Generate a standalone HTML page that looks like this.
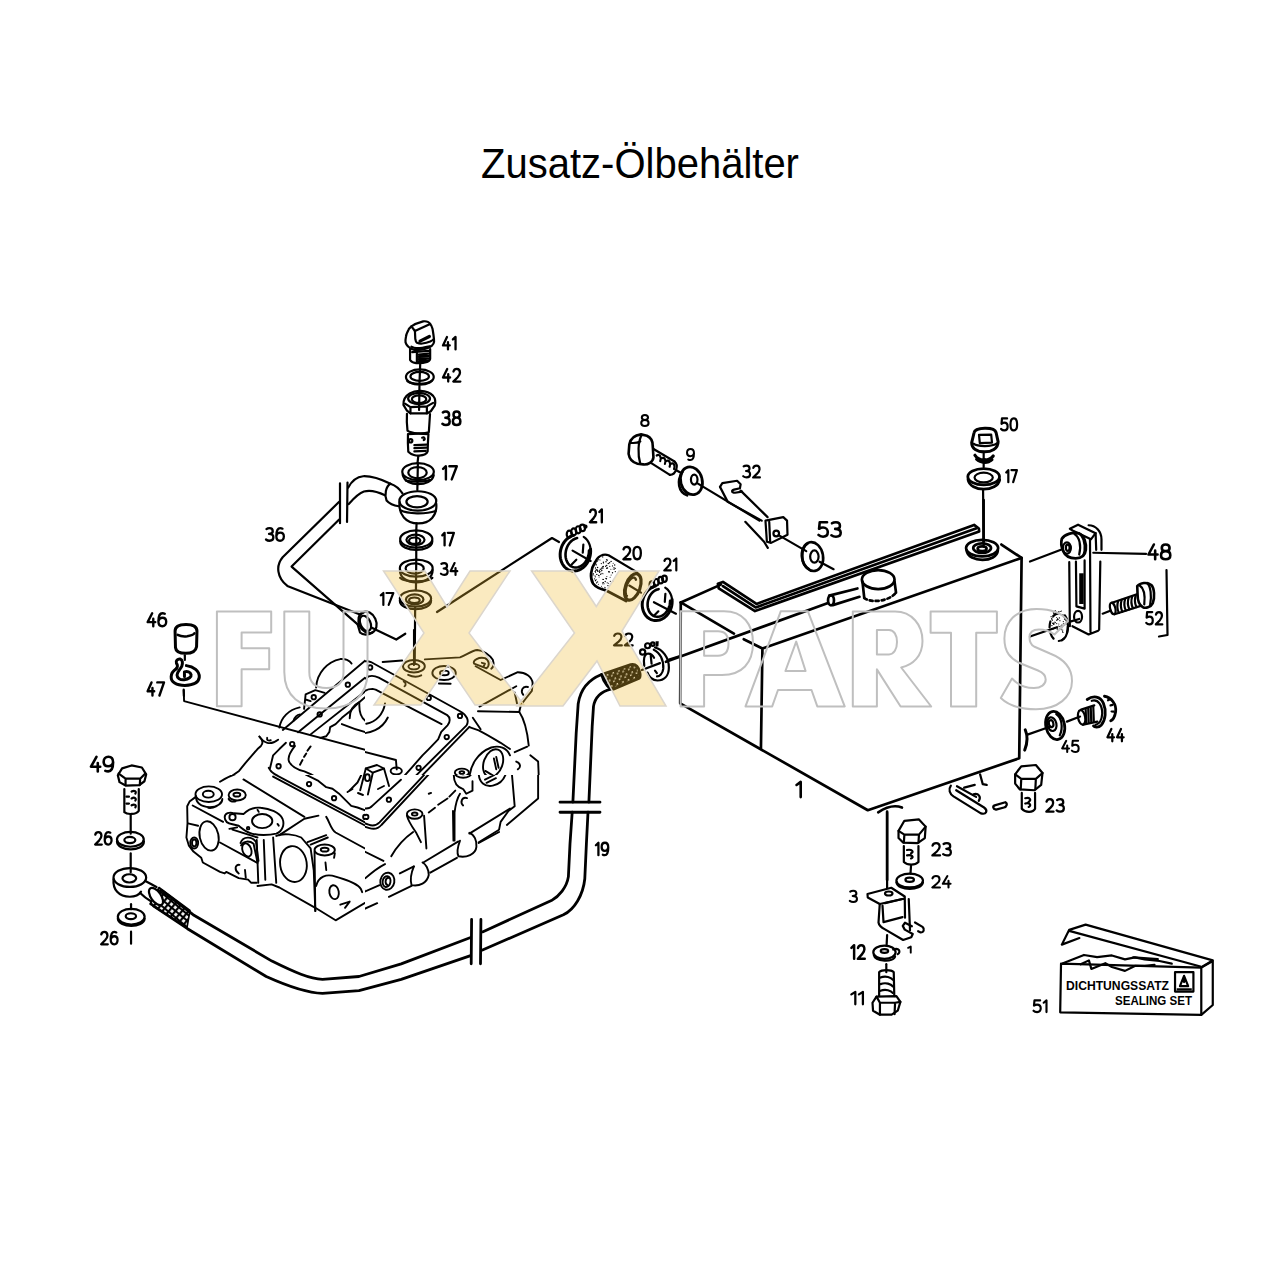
<!DOCTYPE html>
<html><head><meta charset="utf-8"><title>Zusatz-Ölbehälter</title>
<style>
html,body{margin:0;padding:0;background:#fff;}
body{width:1280px;height:1280px;overflow:hidden;position:relative;font-family:"Liberation Sans",sans-serif;}
#t{position:absolute;left:0;top:0;width:1280px;text-align:center;font-size:40px;line-height:1;color:#000;}
svg{position:absolute;left:0;top:0;}
.d path,.d ellipse,.d circle,.d line,.d polyline,.d rect,.d polygon{fill:none;stroke:#000;stroke-width:2.2;stroke-linecap:round;stroke-linejoin:round;vector-effect:non-scaling-stroke;}
.d .f{fill:#fff;}
.d .t{stroke-width:1.4;}
.d .k{fill:#000;stroke:none;}
.d .s circle{fill:#000;stroke:none;}
.d .gb path,.d .gb ellipse,.d .gb circle{stroke-width:1.9;}
.d .tk path,.d .tk ellipse{stroke-width:2.7;}
.d .hs path{stroke-width:2.8;}
.n{font-family:"Liberation Sans",sans-serif;font-size:20px;fill:#000;}
</style></head><body>
<div id="t" style="top:141.8px;transform:scaleY(1.055);transform-origin:0 0">Zusatz-Ölbehälter</div>
<svg width="1280" height="1280" viewBox="0 0 1280 1280">
<g class="d" id="drawing">
<!-- Z1: plug 41 & washer 42 -->
<g transform="translate(380,310) scale(0.078125)">
<path d="M402,209 C430,190 500,160 552,146 C590,140 625,155 642,179 L447,269 Z"/>
<path d="M402,209 C385,225 370,240 367,249 C345,290 333,320 332,344 C325,380 325,400 327,414 C335,440 345,455 357,464 C380,485 395,495 407,499 C430,510 450,514 472,514 C510,512 545,506 572,499 C610,490 640,475 662,459 C685,440 690,425 692,409 C692,380 690,360 687,339 C682,300 678,265 672,239 C665,210 655,192 642,179"/>
<path d="M447,269 C450,310 450,350 452,374 C455,395 462,410 472,419 C500,430 520,432 542,429 C580,425 615,415 642,404 C660,395 675,385 687,374"/>
<path d="M512,399 L632,339" style="stroke-width:3.2"/>
<path d="M402,469 C425,480 445,487 462,489 C490,490 515,488 542,484 C580,478 615,470 642,464"/>
<path d="M385,500 L385,640 C400,665 430,678 462,680 C510,683 570,675 602,664 C625,655 640,640 642,624 L642,500"/>
<path d="M472,540 L472,672"/>
<path d="M412,539 L627,524 M495,570 L625,558 M495,600 L625,588 M495,630 L625,618 M495,658 L620,648"/>
<path d="M515,680 L505,940"/>
<ellipse cx="510" cy="858" rx="178" ry="98"/>
<ellipse cx="508" cy="850" rx="118" ry="58"/>
<path d="M350,910 C400,955 600,960 665,905"/>
<path d="M505,975 L500,1280"/>
</g>
<!-- Z2: 38 & washer 17 -->
<g transform="translate(380,390) scale(0.078125)">
<path d="M345,265 L300,190 C298,140 320,80 380,45 C430,15 480,10 520,12 C580,15 640,35 680,75 C710,110 712,160 700,200 L650,272 L600,300 L390,300 Z"/>
<ellipse cx="500" cy="110" rx="140" ry="72"/>
<ellipse cx="500" cy="118" rx="92" ry="48"/>
<path d="M390,220 L600,210 M390,220 L390,298 M600,210 L600,298 M320,175 L390,220 M680,165 L600,210"/>
<path d="M345,305 C340,380 345,460 352,520 C400,560 560,565 625,540 C630,460 635,380 640,310"/>
<path d="M358,565 C355,650 358,730 362,790 C400,830 470,845 500,840 C560,835 600,815 610,785 C612,700 615,630 620,565 C560,560 420,560 358,565 Z"/>
<circle cx="392" cy="650" r="22"/>
<path d="M540,610 C570,595 580,630 560,640"/>
<path d="M440,705 L595,698 M440,745 L595,738 M440,785 L585,778"/>
<path d="M490,845 L480,935"/>
<ellipse cx="487" cy="1045" rx="202" ry="108"/>
<ellipse cx="480" cy="1058" rx="118" ry="72"/>
<path d="M290,1085 C310,1170 400,1205 487,1205 C580,1205 670,1170 688,1090"/>
<path d="M330,1160 C400,1180 580,1180 640,1150"/>
<path d="M485,935 L478,1280"/>
</g>
<!-- Z3: pipe 36, banjo, washers 17/34/17 -->
<g transform="translate(260,470) scale(0.15625)">
<path d="M835,88 C760,52 705,38 660,40 C615,44 585,75 565,112"/>
<path d="M800,162 C745,135 700,128 665,138 C628,150 600,182 568,218"/>
<path d="M512,85 L512,340 M560,80 L557,332"/>
<path d="M505,205 L145,558 C100,612 108,688 175,742 L640,925"/>
<path d="M505,318 L202,618 L625,988"/>
<path d="M835,88 C805,105 795,160 810,195 C830,218 860,228 888,232"/>
<path d="M838,90 C870,100 895,125 912,150"/>
<ellipse cx="1010" cy="198" rx="118" ry="62"/>
<ellipse cx="1005" cy="203" rx="68" ry="36"/>
<path d="M893,205 C885,285 935,342 1012,342 C1090,342 1135,290 1128,215"/>
<path d="M898,258 C945,282 1060,284 1125,262"/>
<path d="M1002,342 L1000,392"/>
<ellipse cx="1000" cy="442" rx="103" ry="55"/>
<ellipse cx="995" cy="447" rx="58" ry="33"/>
<ellipse cx="990" cy="452" rx="36" ry="20"/>
<path d="M897,455 C900,530 1100,530 1103,455"/>
<path d="M1000,388 L1000,575"/>
<ellipse cx="1000" cy="628" rx="105" ry="55"/>
<ellipse cx="990" cy="630" rx="58" ry="33"/>
<path d="M895,640 C895,745 1105,745 1105,640"/>
<path d="M897,690 C930,720 1070,720 1103,690"/>
<path d="M1000,575 L998,770"/>
<ellipse cx="995" cy="822" rx="100" ry="52"/>
<ellipse cx="990" cy="828" rx="56" ry="32"/>
<ellipse cx="988" cy="834" rx="34" ry="18"/>
<path d="M895,835 C895,910 1095,910 1095,835"/>
<path d="M993,880 L990,1240"/>
<ellipse cx="688" cy="975" rx="55" ry="72" transform="rotate(-25 688 975)"/>
<ellipse cx="675" cy="982" rx="32" ry="52" transform="rotate(-25 675 982)"/>
<path d="M640,925 L665,910 M625,988 L640,1040 C660,1060 700,1055 720,1040"/>
<path d="M712,1008 L872,1085 L930,1048"/>
</g>
<!-- Z4: bolt 8, washer 9, bracket 32, washer 53 -->
<g transform="translate(550,400) scale(0.234375)">
<ellipse cx="1120" cy="668" rx="45" ry="62" transform="rotate(-10 1120 668)" style="stroke-width:2.6"/>
<ellipse cx="1128" cy="668" rx="18" ry="26"/>
<path d="M1100,612 C1070,630 1065,700 1105,722" style="stroke-width:2.6"/>
<path d="M1150,690 L1210,722"/>
</g>
<g transform="translate(600,380) scale(0.234375)">
<path d="M212,285 L318,348 M207,347 L298,405"/>
<path d="M318,348 C336,362 326,404 298,405"/>
<path d="M242,322 C254,314 264,330 257,346 M262,334 C274,326 284,342 277,358 M282,346 C294,338 304,354 297,370 M302,358 C314,350 322,364 316,380"/>
<path d="M125,275 C130,250 150,235 175,232 L200,238 C215,245 225,262 225,280 L228,330 C226,350 205,362 185,360 L160,357 C140,352 125,335 122,315 Z" style="fill:#fff;stroke-width:2.6"/>
<path d="M178,234 C162,262 160,320 172,358 M130,268 C145,270 160,268 172,262"/>
<path d="M325,385 L345,396"/>
<ellipse cx="390" cy="430" rx="46" ry="60" transform="rotate(-15 390 430)" style="stroke-width:2.8"/>
<ellipse cx="402" cy="425" rx="14" ry="21"/>
<path d="M352,392 C326,430 334,478 372,492" style="stroke-width:2.6"/>
<path d="M418,442 L680,600"/>
<path d="M512,456 L522,440 L585,430 L600,445 L597,462 L572,468 C560,471 561,481 576,481 L606,476"/>
<path d="M512,456 L545,520 L690,600 M600,472 L715,585"/>
<path d="M706,600 L782,585 L798,600 L800,660 L730,695 L712,690 Z" style="fill:#fff"/>
<path d="M722,605 L726,690"/>
<circle cx="752" cy="655" r="12"/>
<path d="M620,605 L700,690 L716,716"/>
<path d="M762,662 L880,730"/>
</g>

<!-- Z17: cap 46, clip 47 -->
<g transform="translate(170,610) scale(0.078125)" style="stroke-width:3">
<path d="M65,270 C65,200 130,185 205,185 C280,185 345,205 345,270 L340,470 C330,530 280,555 200,555 C120,555 75,530 70,480 Z" style="stroke-width:3"/>
<path d="M98,318 C130,335 180,342 220,337 C262,330 300,320 312,300" style="stroke-width:2.6"/>
<path d="M190,580 L190,640"/>
<path d="M210,712 C300,722 380,782 375,860 C370,922 300,962 190,966 C80,966 10,922 15,852 C18,802 50,772 80,752" style="stroke-width:3"/>
<path d="M80,752 C100,732 100,702 82,682 C70,652 100,622 130,627 C162,637 166,682 150,722 C130,762 90,792 90,832 C90,872 130,897 182,892 C242,887 276,852 270,827 C260,792 222,782 185,792 L185,852" style="stroke-width:3"/>
<path d="M175,1020 L178,1100"/>
</g>
<!-- Hose 19 (abs) -->
<defs>
<pattern id="hatch" width="5" height="5" patternUnits="userSpaceOnUse" patternTransform="rotate(40)">
<rect width="5" height="5" fill="#fff"/><path d="M0,0 L0,5 M0,0 L5,0" stroke="#000" stroke-width="0.9"/>
</pattern>
<pattern id="braidD" width="6" height="6" patternUnits="userSpaceOnUse" patternTransform="rotate(-20)">
<rect width="6" height="6" fill="#1e1e1e"/><circle cx="1.5" cy="1.5" r="1.1" fill="#fff"/><circle cx="4.5" cy="4.5" r="1.0" fill="#fff"/>
</pattern>
</defs>
<g class="hs">
<path d="M162.2,890.8 L193.1,914.7 L271.9,961.1 C294.4,972.3 310,979 322.5,979.4 L359,976.5 L401.2,963.9 L470.6,937.5"/>
<path d="M153.7,906.2 L187.5,928.7 L266.2,976.5 C294.4,989.2 310,993 322.5,993.4 L359,990.6 L401.2,979.4 L470.6,955.6"/>
<path d="M471.6,919.4 L471.2,963.8 M480.9,919.4 L480.5,963.8"/>
<path d="M482.5,931.9 L551.4,900.6 C559,896.25 566.7,887.5 568.4,876.6 L570,843.75 L572.2,812.25"/>
<path d="M482.5,950 L563.4,914.8 C574.4,909.4 583.1,895.2 584.8,878.75 L586.4,843.75 L588,812.25"/>
<path d="M560,802.2 L600,802.2 M560,812.25 L600,812.25"/>
<path d="M572.9,802 L576.2,733 L578.2,703.7 C580.2,690.5 588.2,679.8 601.5,674.5"/>
<path d="M588.9,802 L592.2,726.3 L593.5,706.4 C594.8,698.4 600.2,691.8 610.8,689.1"/>
<path d="M601.5,674.5 L630.7,664.6 C636,663.5 639,667 640,673.2 C640.5,676 639.5,678 638.7,678.5 L613.4,689.1 C610,690 604,684 601.5,674.5 Z" style="fill:url(#braidD)"/>
<path d="M159,887.5 L190,910.5 L187,927.5 L150,904 Z" style="fill:url(#hatch);stroke-width:1.6"/>
<ellipse cx="156" cy="896.5" rx="5" ry="10" transform="rotate(-35 156 896.5)" style="fill:#fff;stroke-width:2.2"/>
</g>
<!-- Z10: bolt 49, washers 26, banjo -->
<g transform="translate(80,740) scale(0.171875)">
<path d="M220,205 L245,165 L300,148 L360,160 L385,200 L375,240 L345,262 L265,265 L230,245 Z"/>
<path d="M225,195 L265,225 L350,225 L380,195 M265,225 L265,262 M350,225 L348,262"/>
<path d="M258,285 L258,420 C275,435 325,435 342,412 L342,285"/>
<path d="M300,300 C318,290 330,300 322,312 M300,340 C318,330 330,340 322,352 M300,380 C318,370 330,380 322,392 M270,330 L285,330 M270,370 L285,370"/>
<path d="M295,435 L295,545"/>
<ellipse cx="293" cy="578" rx="78" ry="43"/><ellipse cx="290" cy="582" rx="32" ry="18"/>
<path d="M215,590 C218,650 370,655 372,590"/>
<path d="M295,660 L295,770"/>
<ellipse cx="290" cy="800" rx="95" ry="55"/><ellipse cx="287" cy="805" rx="40" ry="24"/>
<path d="M195,810 C190,870 225,912 290,912 C325,912 345,898 355,882"/>
<path d="M380,820 C405,832 425,845 445,855 M350,890 C370,910 395,928 415,940"/>
<path d="M297,955 L297,985"/>
<ellipse cx="298" cy="1028" rx="78" ry="46"/><ellipse cx="296" cy="1025" rx="30" ry="17"/>
<path d="M220,1040 C225,1095 372,1095 376,1040"/>
<path d="M297,1115 L297,1185"/>
</g>

<!-- Z7: Tank -->
<g class="tk" transform="translate(660,500) scale(0.296875)">
<path d="M70,345 L68,685 L700,1045 L1210,870 L1218,195 L1150,150"/>
<path d="M70,345 L249,450 M282,469 L345,500 L1218,195 M345,500 L340,835"/>
<path d="M70,345 L205,285"/>
<path d="M195,282 L212,276 L325,350 L1058,84 L1074,96 L1075,106 L320,374 L198,298 Z"/>
<path d="M212,290 L322,362 L1064,96"/>
<ellipse cx="735" cy="268" rx="55" ry="32"/>
<path d="M682,275 L688,330 M790,275 L795,312"/>
<path d="M688,330 C712,348 770,342 795,312" style="stroke-dasharray:3 3"/>
<path d="M570,322 L665,298 M582,354 L672,326"/>
<ellipse cx="576" cy="338" rx="10" ry="17"/>
<ellipse cx="1085" cy="162" rx="54" ry="28"/><ellipse cx="1085" cy="162" rx="30" ry="16"/><ellipse cx="1085" cy="164" rx="15" ry="8"/>
<path d="M1033,170 C1038,212 1135,212 1138,170"/>
<path d="M1090,0 L1090,140"/>
<path d="M20,545 L566,347"/>
<path d="M735,1052 C765,1032 795,1028 815,1036 M765,1050 L765,1280"/>
</g>
<!-- Z6: cap 50, washer 17, sight glass 48, bolt 52 -->
<g transform="translate(940,400) scale(0.203125)">
<path d="M168,160 C172,134 268,130 276,160 L286,205 C286,240 252,255 220,255 C182,255 156,240 156,210 Z" style="stroke-width:3"/>
<path d="M192,172 L252,170 L256,210 L196,212 Z M165,215 C185,230 255,232 282,212"/>
<path d="M172,272 C190,300 240,305 262,276" style="stroke-width:3.2"/><path d="M180,292 C200,312 238,312 256,294" style="stroke-width:3"/><path d="M195,300 L218,290 L240,306 M215,262 L215,330"/>
<ellipse cx="215" cy="378" rx="78" ry="40" style="stroke-width:2.8"/><ellipse cx="215" cy="382" rx="45" ry="24"/>
<path d="M138,392 C148,455 282,455 294,392" style="stroke-width:2.8"/>
<path d="M212,440 L215,722"/>
</g>
<!-- Z22: sight glass 48 -->
<g transform="translate(1030,510) scale(0.1171875)">
<path d="M340,160 L410,125 L560,198 L520,250 L372,180 Z"/>
<path d="M500,130 C560,130 610,180 610,250 L610,340 M560,198 L565,340"/>
<path d="M272,245 C295,205 360,188 420,200 C462,220 482,282 476,340 C470,388 440,412 390,412 C338,412 300,392 284,352 C266,312 264,272 272,245 Z" style="stroke-width:2.8"/>
<path d="M380,205 C420,230 440,300 420,380 M440,220 C470,260 475,340 455,390"/>
<ellipse cx="315" cy="325" rx="34" ry="48"/><ellipse cx="322" cy="322" rx="16" ry="26"/>
<path d="M335,445 L340,992 M512,252 L516,1040 M600,440 L590,1022 M362,992 L500,1062 L582,1030"/>
<path d="M392,440 L396,822 L466,842 L466,430"/>
<rect x="420" y="540" width="38" height="262" class="k"/>
<ellipse cx="410" cy="910" rx="34" ry="50"/>
<path d="M0,440 L275,335 M540,365 L990,375"/>
<ellipse cx="245" cy="1000" rx="78" ry="118" style="stroke-dasharray:6 6"/>
<path d="M298,900 C340,960 330,1080 272,1112"/>
<path d="M0,1080 L230,1000 M350,950 L420,930"/>
</g>
<!-- Z8: 44/45/23/23/24/3/12/11 -->
<g transform="translate(830,680) scale(0.265625)">
<path d="M697,355 L720,325 L775,320 L800,350 L795,395 L770,415 L715,412 L697,390 Z"/>
<path d="M697,355 L720,372 L775,372 L800,350 M720,372 L718,412 M775,372 L773,412"/>
<path d="M722,425 L722,485 C735,500 765,500 772,485 L772,425"/>
<path d="M735,445 C752,440 760,452 748,458 M735,465 C752,460 760,472 748,478"/>
<path d="M455,398 C445,412 450,428 465,438 L568,502 C588,508 596,492 580,480 L475,415"/>
<path d="M478,400 L550,440 M505,405 L545,395 M565,355 L575,392 L590,395 M540,430 C560,425 570,440 560,455"/>
<path d="M620,472 L660,460 C670,465 665,478 655,480 L625,488 C612,485 612,475 620,472 Z"/>
<path d="M258,568 L280,530 L335,525 L360,552 L357,595 L330,614 L275,612 L258,595 Z"/>
<path d="M258,568 L280,582 L335,582 L360,552 M280,582 L278,612 M335,582 L333,612"/>
<path d="M278,625 L278,685 C292,698 320,698 333,685 L333,625"/>
<path d="M290,640 C308,636 318,648 305,652 M290,660 C308,656 318,668 305,672"/>
<path d="M305,700 L303,730"/>
<ellipse cx="300" cy="755" rx="50" ry="26"/><ellipse cx="300" cy="752" rx="16" ry="8"/>
<path d="M250,762 C255,795 345,795 350,762"/>
<path d="M215,500 L215,800"/>
<path d="M215,960 L213,1000"/>
<ellipse cx="205" cy="1025" rx="42" ry="25"/><ellipse cx="205" cy="1020" rx="14" ry="7"/>
<path d="M165,1035 C170,1060 240,1065 245,1040 M238,1015 C260,1005 268,1025 255,1032"/>
<path d="M212,1070 L212,1100"/>
<path d="M185,1100 L185,1190 M240,1100 L242,1190 M185,1100 C195,1090 230,1090 240,1100"/>
<path d="M190,1120 C210,1112 230,1120 236,1128 M190,1145 C210,1137 230,1145 236,1153 M190,1170 C210,1162 230,1170 236,1178"/>
<path d="M160,1215 L175,1192 L250,1190 L265,1212 L255,1245 L232,1260 L188,1260 L162,1245 Z"/>
<path d="M175,1192 L188,1215 L245,1215 L265,1212 M188,1215 L188,1260 M245,1215 L243,1258"/>
</g>
<!-- Z9: box 51 -->
<g transform="translate(1020,900) scale(0.1640625)">
<path d="M250,388 L1105,412 L1105,700 L245,685 Z"/>
<path d="M1105,412 L1175,372 L1175,640 L1105,700"/>
<path d="M255,272 L300,182 L400,150 L1175,368 L1105,410 M300,188 L1100,405 M255,272 L362,232"/>
<path d="M262,385 L390,335 L470,348 L560,338 L640,362 L700,350 L760,362 L850,372 L925,388"/>
<path d="M370,392 L420,368 L435,420 L520,385 L560,408 L640,432 L700,402 L760,402 L820,395"/>
<path d="M690,350 L840,360"/>
<rect x="945" y="440" width="112" height="118"/>
<path d="M975,525 L1000,462 L1025,525 Z M1000,462 L1000,500"/>
<rect x="955" y="538" width="92" height="14" class="k"/>
</g>
<text x="1066" y="989.5" font-family="Liberation Sans" font-size="12.6" font-weight="bold" textLength="103" lengthAdjust="spacingAndGlyphs" fill="#000">DICHTUNGSSATZ</text>
<text x="1115" y="1005" font-family="Liberation Sans" font-size="12.6" font-weight="bold" textLength="77" lengthAdjust="spacingAndGlyphs" fill="#000">SEALING SET</text>

<!-- Z23: clamp 22 -->
<g transform="translate(620,620) scale(0.0625)">
<path d="M560,440 C680,470 782,600 782,760 C782,900 700,965 600,968 C520,965 462,905 440,842"/>
<path d="M540,475 C640,522 702,642 692,782 C682,862 632,902 592,902"/>
<path d="M388,735 C375,640 382,560 432,540 C482,530 522,560 545,605"/>
<circle cx="362" cy="512" r="42"/><circle cx="442" cy="412" r="40"/><circle cx="525" cy="385" r="28"/>
<path d="M570,340 L620,340 L615,420 L570,430 Z" class="k"/>
<path d="M350,800 L640,690 M492,570 L505,700 M560,810 L590,850"/>
<path d="M782,632 L960,575"/>
</g>
<path d="M437,612 L552,538 L559,542"/>

<path d="M1166.5,570 L1167.5,635 L1159,636.5"/>
<g class="s"><circle cx="603.0" cy="573.8" r="0.5"/><circle cx="595.2" cy="571.4" r="0.7"/><circle cx="612.7" cy="581.0" r="0.6"/><circle cx="607.2" cy="560.1" r="0.7"/><circle cx="599.1" cy="577.0" r="0.5"/><circle cx="609.8" cy="566.3" r="0.6"/><circle cx="595.6" cy="580.3" r="0.6"/><circle cx="595.0" cy="575.8" r="0.5"/><circle cx="601.7" cy="569.0" r="0.5"/><circle cx="606.9" cy="576.5" r="0.5"/><circle cx="596.0" cy="564.1" r="0.6"/><circle cx="613.2" cy="569.1" r="0.5"/><circle cx="597.0" cy="561.4" r="0.7"/><circle cx="606.7" cy="565.4" r="0.7"/><circle cx="603.4" cy="579.5" r="0.5"/><circle cx="597.5" cy="571.4" r="0.5"/><circle cx="602.6" cy="566.9" r="0.7"/><circle cx="606.4" cy="559.5" r="0.5"/><circle cx="603.3" cy="567.9" r="0.5"/><circle cx="603.5" cy="582.5" r="0.5"/><circle cx="606.0" cy="578.4" r="0.7"/><circle cx="597.2" cy="570.2" r="0.7"/><circle cx="609.4" cy="571.9" r="0.7"/><circle cx="603.5" cy="563.0" r="0.6"/><circle cx="615.1" cy="568.4" r="0.7"/><circle cx="595.7" cy="560.6" r="0.7"/><circle cx="596.8" cy="569.8" r="0.7"/><circle cx="598.9" cy="559.3" r="0.5"/><circle cx="597.8" cy="560.6" r="0.6"/><circle cx="600.7" cy="574.3" r="0.7"/><circle cx="602.7" cy="556.9" r="0.7"/><circle cx="613.2" cy="563.3" r="0.5"/><circle cx="593.1" cy="574.9" r="0.6"/><circle cx="595.6" cy="572.5" r="0.5"/><circle cx="611.1" cy="574.9" r="0.5"/><circle cx="597.6" cy="567.5" r="0.7"/><circle cx="609.6" cy="562.7" r="0.7"/><circle cx="600.9" cy="571.6" r="0.5"/><circle cx="603.0" cy="579.4" r="0.7"/><circle cx="593.5" cy="563.4" r="0.5"/><circle cx="614.0" cy="567.6" r="0.6"/><circle cx="599.6" cy="570.4" r="0.5"/><circle cx="602.3" cy="588.3" r="0.7"/><circle cx="605.7" cy="566.2" r="0.7"/><circle cx="606.0" cy="561.8" r="0.7"/><circle cx="601.3" cy="563.6" r="0.6"/><circle cx="603.3" cy="566.4" r="0.7"/><circle cx="605.1" cy="587.7" r="0.5"/><circle cx="604.8" cy="587.2" r="0.5"/><circle cx="596.5" cy="582.9" r="0.5"/><circle cx="596.7" cy="582.3" r="0.5"/><circle cx="605.2" cy="581.5" r="0.7"/><circle cx="595.6" cy="580.6" r="0.6"/><circle cx="593.2" cy="573.7" r="0.7"/><circle cx="612.5" cy="572.8" r="0.7"/><circle cx="607.2" cy="589.3" r="0.5"/><circle cx="595.2" cy="562.0" r="0.6"/><circle cx="602.9" cy="583.8" r="0.6"/><circle cx="601.9" cy="567.8" r="0.6"/><circle cx="602.7" cy="582.8" r="0.5"/><circle cx="599.1" cy="557.3" r="0.7"/><circle cx="595.3" cy="576.8" r="0.6"/><circle cx="597.8" cy="558.5" r="0.5"/><circle cx="599.6" cy="572.3" r="0.6"/><circle cx="596.0" cy="569.8" r="0.5"/><circle cx="607.2" cy="582.8" r="0.6"/><circle cx="604.1" cy="583.7" r="0.5"/><circle cx="607.9" cy="585.6" r="0.7"/><circle cx="602.0" cy="573.3" r="0.6"/><circle cx="606.7" cy="568.3" r="0.7"/><circle cx="608.6" cy="583.2" r="0.5"/><circle cx="606.4" cy="578.7" r="0.7"/><circle cx="596.8" cy="574.4" r="0.7"/><circle cx="600.0" cy="560.0" r="0.5"/><circle cx="608.7" cy="571.8" r="0.7"/><circle cx="598.1" cy="559.0" r="0.7"/><circle cx="607.5" cy="568.0" r="0.7"/><circle cx="610.3" cy="581.3" r="0.6"/><circle cx="611.1" cy="561.4" r="0.7"/><circle cx="597.6" cy="570.6" r="0.5"/><circle cx="596.2" cy="564.9" r="0.7"/><circle cx="594.5" cy="563.2" r="0.6"/><circle cx="603.4" cy="562.2" r="0.7"/><circle cx="610.9" cy="569.2" r="0.5"/><circle cx="599.1" cy="575.4" r="0.5"/><circle cx="602.0" cy="568.4" r="0.6"/><circle cx="598.4" cy="584.2" r="0.5"/><circle cx="596.1" cy="579.6" r="0.5"/><circle cx="599.0" cy="571.2" r="0.7"/><circle cx="612.5" cy="565.9" r="0.6"/><circle cx="600.3" cy="569.2" r="0.7"/><circle cx="614.7" cy="565.0" r="0.7"/><circle cx="598.6" cy="575.3" r="0.6"/><circle cx="608.2" cy="563.6" r="0.7"/><circle cx="599.5" cy="571.9" r="0.6"/><circle cx="601.5" cy="586.2" r="0.5"/><circle cx="601.8" cy="570.4" r="0.7"/><circle cx="594.5" cy="578.8" r="0.6"/><circle cx="595.7" cy="570.6" r="0.5"/><circle cx="603.2" cy="582.5" r="0.5"/><circle cx="606.4" cy="589.5" r="0.5"/><circle cx="595.5" cy="568.0" r="0.7"/><circle cx="610.1" cy="577.2" r="0.5"/><circle cx="614.2" cy="569.6" r="0.5"/><circle cx="608.4" cy="563.3" r="0.6"/><circle cx="615.3" cy="571.6" r="0.6"/><circle cx="607.0" cy="560.1" r="0.6"/><circle cx="595.0" cy="562.0" r="0.5"/><circle cx="597.6" cy="581.9" r="0.6"/><circle cx="595.4" cy="580.6" r="0.6"/><circle cx="1053.0" cy="623.2" r="0.7"/><circle cx="1056.7" cy="623.6" r="0.6"/><circle cx="1061.7" cy="626.9" r="0.7"/><circle cx="1056.2" cy="627.9" r="0.5"/><circle cx="1054.6" cy="611.2" r="0.5"/><circle cx="1051.9" cy="625.6" r="0.7"/><circle cx="1063.3" cy="623.6" r="0.5"/><circle cx="1053.9" cy="613.6" r="0.7"/><circle cx="1051.1" cy="616.7" r="0.6"/><circle cx="1059.7" cy="628.3" r="0.6"/><circle cx="1057.5" cy="618.7" r="0.5"/><circle cx="1061.9" cy="627.8" r="0.5"/><circle cx="1057.8" cy="627.7" r="0.5"/><circle cx="1053.3" cy="612.4" r="0.5"/><circle cx="1057.2" cy="629.6" r="0.6"/><circle cx="1058.7" cy="626.1" r="0.5"/><circle cx="1064.6" cy="618.8" r="0.6"/><circle cx="1062.8" cy="625.2" r="0.6"/><circle cx="1061.5" cy="625.0" r="0.5"/><circle cx="1054.0" cy="613.3" r="0.6"/><circle cx="1061.4" cy="611.0" r="0.6"/><circle cx="1052.9" cy="617.3" r="0.6"/><circle cx="1064.7" cy="625.1" r="0.5"/><circle cx="1053.8" cy="623.1" r="0.6"/><circle cx="1059.4" cy="617.9" r="0.7"/><circle cx="1058.8" cy="624.1" r="0.5"/><circle cx="1062.6" cy="631.4" r="0.5"/><circle cx="1061.5" cy="629.7" r="0.5"/><circle cx="1053.6" cy="624.1" r="0.7"/><circle cx="1055.3" cy="610.6" r="0.6"/><circle cx="1057.6" cy="628.4" r="0.5"/><circle cx="1066.2" cy="623.2" r="0.7"/><circle cx="1052.2" cy="628.9" r="0.6"/><circle cx="1060.4" cy="611.4" r="0.5"/><circle cx="1053.6" cy="624.1" r="0.5"/><circle cx="1052.5" cy="623.3" r="0.5"/><circle cx="1057.6" cy="619.3" r="0.7"/><circle cx="1060.7" cy="625.9" r="0.5"/><circle cx="1052.0" cy="619.5" r="0.5"/><circle cx="1051.7" cy="618.8" r="0.7"/><circle cx="1056.7" cy="617.4" r="0.5"/><circle cx="1054.0" cy="623.9" r="0.6"/><circle cx="1062.7" cy="630.1" r="0.6"/><circle cx="1057.9" cy="619.5" r="0.7"/><circle cx="1066.3" cy="623.8" r="0.6"/><circle cx="1063.3" cy="621.6" r="0.6"/><circle cx="1056.8" cy="620.2" r="0.7"/><circle cx="1055.3" cy="622.6" r="0.6"/><circle cx="1060.4" cy="629.1" r="0.6"/><circle cx="1059.4" cy="626.4" r="0.5"/><circle cx="1062.9" cy="632.4" r="0.6"/><circle cx="1065.5" cy="619.8" r="0.5"/><circle cx="1053.2" cy="628.9" r="0.7"/><circle cx="1058.9" cy="611.6" r="0.7"/><circle cx="1059.9" cy="620.7" r="0.6"/><circle cx="1053.6" cy="616.4" r="0.6"/><circle cx="1052.3" cy="620.3" r="0.6"/><circle cx="1064.5" cy="619.1" r="0.6"/><circle cx="1062.2" cy="614.5" r="0.6"/><circle cx="1054.8" cy="622.0" r="0.6"/></g>
<!-- Gearbox tiles -->
<defs>
<clipPath id="cA"><rect x="170" y="600" width="195" height="175"/></clipPath>
<clipPath id="cB"><rect x="365" y="600" width="200" height="175"/></clipPath>
<clipPath id="cC"><rect x="150" y="775" width="215" height="160"/></clipPath>
<clipPath id="cD"><rect x="365" y="775" width="200" height="160"/></clipPath>
</defs>
<g class="gb" clip-path="url(#cA)"><g transform="translate(170,630) scale(0.15625)">
<path d="M88,385 L90,455 L1280,775"/>
<path d="M722,640 L1250,195"/>
<path d="M820,655 L1280,280"/>
<path d="M900,668 L1280,368"/>
<circle cx="920" cy="430" r="14"/><circle cx="1138" cy="350" r="14"/><circle cx="958" cy="540" r="14"/><circle cx="1270" cy="240" r="14"/>
<path d="M862,470 L868,412 L930,385 L990,402 M862,470 L858,505 M868,445 L900,455"/>
<path d="M700,625 C710,560 760,510 830,495 M790,582 C798,555 815,542 832,540"/>
<path d="M935,368 C940,272 1010,202 1090,186 C1120,182 1150,195 1162,215"/>
<path d="M962,690 L1000,680 L1020,652 L1025,622 L1060,602 L1100,562 L1150,522 L1200,472 L1280,402"/>
<path d="M1150,565 C1150,522 1170,482 1212,462 M1212,472 C1210,522 1222,562 1252,582 L1280,592 M1100,602 C1150,622 1200,642 1280,662"/>
<path d="M572,682 C592,702 600,722 582,742 L560,762 L482,852 L442,902 L400,932 L340,962"/>
<path d="M572,682 C600,722 640,742 692,702 M622,690 C618,705 630,712 645,705"/>
<path d="M640,885 L660,802 L700,762 L742,722"/>
<circle cx="782" cy="730" r="14"/><circle cx="695" cy="872" r="14"/>
<path d="M832,862 L848,832 M858,812 L872,790 M880,772 L900,745"/>
<path d="M800,742 C770,780 752,820 762,842 C780,880 820,895 860,905 L900,922 L950,952"/>
<path d="M632,882 C650,922 700,942 762,962"/>
</g></g>
<g class="gb" clip-path="url(#cB)"><g transform="translate(360,630) scale(0.15625)">
<path d="M345,0 L345,225"/>
<ellipse cx="345" cy="232" rx="70" ry="40"/><ellipse cx="345" cy="234" rx="35" ry="18"/>
<path d="M308,287 C340,302 372,300 392,290"/>
<ellipse cx="538" cy="275" rx="75" ry="45"/><ellipse cx="540" cy="275" rx="28" ry="15"/>
<path d="M505,342 L580,344"/>
<path d="M145,205 L270,195"/>
<path d="M415,188 L640,175 C680,160 720,130 750,128 C790,130 830,160 850,190 C860,220 850,240 840,248"/>
<path d="M730,215 C720,195 760,170 800,180 C830,195 830,230 810,245 Z"/>
<path d="M780,210 L800,215 L790,235"/>
<path d="M740,232 L900,320 L1010,270 C1060,270 1100,300 1105,340 L1100,390 L1060,440 L1030,480 L1020,520"/>
<path d="M1075,365 C1040,355 1025,390 1045,415"/>
<path d="M990,400 L1005,470"/>
<path d="M765,490 L1000,360"/>
<path d="M755,520 L1020,525 C1050,570 1070,640 1080,740"/>
<path d="M0,215 C20,200 45,195 70,205 L640,520 C685,545 700,580 682,610 L330,960"/>
<path d="M700,620 L370,960"/>
<path d="M722,562 L772,635"/>
<path d="M0,330 L55,297 C75,290 100,295 120,305 L558,545 C580,560 578,590 560,610 L520,652 L500,700 L440,762 L400,802 L330,882 L260,960"/>
<circle cx="65" cy="240" r="14"/><circle cx="440" cy="435" r="14"/><circle cx="640" cy="550" r="14"/><circle cx="555" cy="685" r="14"/><circle cx="375" cy="882" r="14"/>
<path d="M280,330 C295,335 295,355 285,360"/>
<path d="M0,422 C20,392 50,377 80,377 L100,382 L522,602"/>
<path d="M160,470 C150,540 100,590 40,600 M178,560 C140,640 60,662 0,662"/>
<path d="M0,772 L230,832 L235,892"/>
<ellipse cx="232" cy="902" rx="36" ry="22"/>
<path d="M700,960 C700,862 760,782 840,752 C890,737 940,752 960,802"/>
<ellipse cx="852" cy="852" rx="60" ry="92" transform="rotate(20 852 852)"/>
<path d="M872,812 L887,882 M857,822 L872,892 M802,902 L852,932"/>
<ellipse cx="652" cy="912" rx="45" ry="25"/><ellipse cx="652" cy="912" rx="15" ry="9"/>
<path d="M990,782 L1070,747 M1000,842 C1030,852 1030,882 1010,892 M1090,802 L1140,842 L1145,960"/>
<path d="M700,622 L760,642 C800,662 850,692 900,722 L960,762"/>
</g></g>
<g class="gb" clip-path="url(#cC)"><g transform="translate(170,770) scale(0.15625)">
<path d="M320,75 C360,50 400,30 440,20"/>
<ellipse cx="248" cy="155" rx="85" ry="50"/><ellipse cx="245" cy="155" rx="35" ry="22"/>
<path d="M165,165 C165,215 200,235 255,238 C300,238 335,215 335,185 M245,242 C280,247 315,227 330,202"/>
<ellipse cx="430" cy="160" rx="55" ry="35"/><ellipse cx="428" cy="158" rx="22" ry="12"/>
<path d="M375,185 C380,200 400,205 420,200"/>
<path d="M165,172 L125,202 L110,232 L112,342 L105,432 L120,482 L150,522 L200,562 L210,592 L320,652 L350,662 L360,652 L440,692 L500,702 L520,722 L555,722"/>
<path d="M145,227 L340,332"/>
<path d="M115,342 L180,357"/>
<ellipse cx="250" cy="422" rx="60" ry="95" transform="rotate(-12 250 422)"/>
<ellipse cx="155" cy="467" rx="25" ry="35"/><ellipse cx="155" cy="467" rx="14" ry="22"/>
<ellipse cx="492" cy="512" rx="28" ry="44" transform="rotate(-20 492 512)"/>
<path d="M455,482 C470,452 510,452 535,472 L560,592"/>
<path d="M445,607 C415,602 410,642 440,662 M480,640 L485,690"/>
<path d="M350,302 C350,277 380,267 410,277 L470,282 C500,252 540,237 580,242 C640,247 700,272 720,312 C735,347 720,392 680,407 C640,417 560,422 510,402 C480,392 460,372 440,357 L400,347 C370,342 350,327 350,302 Z"/>
<circle cx="400" cy="302" r="20"/>
<ellipse cx="590" cy="327" rx="65" ry="45"/>
<circle cx="500" cy="372" r="8"/>
<path d="M560,255 L568,268 M688,345 L696,356"/>
<path d="M380,377 L430,367 M400,382 L560,432"/>
<path d="M555,447 L565,722 M600,447 L610,702 M660,432 L680,722"/>
<ellipse cx="790" cy="602" rx="85" ry="115" transform="rotate(-8 790 602)"/>
<path d="M680,422 C720,402 800,412 840,432 L900,502 L920,642 L930,902"/>
<path d="M700,417 L860,312 L950,292"/>
<path d="M880,462 L1000,417 M900,477 L1010,432"/>
<path d="M470,60 L860,300"/>
<path d="M1000,300 C1020,330 1030,380 1060,400 L1280,520"/>
<ellipse cx="990" cy="512" rx="65" ry="35"/><ellipse cx="990" cy="510" rx="25" ry="12"/>
<path d="M925,522 L930,902 M1055,532 L1050,562 M995,592 L1000,640"/>
<path d="M935,742 C950,682 1000,662 1060,682 C1120,702 1200,722 1222,762 L1230,782"/>
<ellipse cx="1050" cy="782" rx="30" ry="45" transform="rotate(-10 1050 782)"/>
<path d="M560,742 L650,732 L700,752 L930,882 L1060,962 L1280,832"/>
<path d="M1090,862 L1150,842 L1120,882"/>
<path d="M660,22 L1280,352 M660,42 L1280,372"/>
<circle cx="890" cy="90" r="14"/><circle cx="1050" cy="180" r="14"/><circle cx="1250" cy="300" r="14"/>
<path d="M830,0 L870,30 L950,70 L1000,110 L1040,120 L1080,150 L1120,190 L1160,230 L1200,240 L1280,270"/>
<path d="M1150,130 L1200,80 L1230,20"/>
</g></g>
<g class="gb" clip-path="url(#cD)"><g transform="translate(360,770) scale(0.15625)">
<path d="M440,0 L125,335 Q95,365 55,350 L0,330"/>
<path d="M452,15 L137,352 Q107,387 60,372 L0,352"/>
<circle cx="185" cy="190" r="14"/><circle cx="40" cy="300" r="14"/>
<path d="M262,62 L80,228 Q60,250 30,246 L-10,236"/>
<path d="M200,552 C240,482 290,432 340,397"/>
<path d="M440,272 L480,242 M500,222 L560,182 M572,170 L610,132 M440,152 L455,147"/>
<ellipse cx="350" cy="282" rx="50" ry="30"/><ellipse cx="350" cy="282" rx="18" ry="10"/>
<path d="M300,292 C310,332 340,372 360,402 L390,462 M410,292 L425,502"/>
<ellipse cx="660" cy="15" rx="55" ry="35"/><ellipse cx="660" cy="15" rx="20" ry="12"/>
<path d="M600,30 C600,80 620,110 660,122 L680,152 L720,132 L720,72"/>
<path d="M685,180 C650,170 640,210 660,227"/>
<path d="M640,152 C620,182 610,232 605,272 L605,452 M595,262 L598,452"/>
<path d="M760,20 C760,80 800,110 850,100 C900,90 930,50 940,0 M800,62 L860,32 M810,82 L870,52"/>
<path d="M970,0 L990,232 L950,262 L900,332 L890,382 L760,462"/>
<path d="M1140,0 L1140,182 L940,352"/>
<path d="M0,792 L125,737 M255,662 L345,617 M405,592 L630,457 M700,407 L960,247"/>
<path d="M0,902 L110,852 M185,812 L330,742 M450,657 L620,562 M760,467 L890,397"/>
<path d="M345,617 C330,652 320,702 330,737 C380,747 430,722 440,672 C440,632 420,602 400,592"/>
<path d="M640,452 C625,492 620,532 630,552 C680,562 740,542 745,492 C750,452 730,412 700,402"/>
<ellipse cx="175" cy="712" rx="45" ry="55" transform="rotate(10 175 712)"/>
<ellipse cx="170" cy="714" rx="25" ry="35" transform="rotate(10 170 714)"/>
<path d="M185,690 C160,690 155,730 180,740"/>
<path d="M0,507 L150,582 M35,692 C80,652 120,622 160,602"/>
<path d="M0,722 L10,780 M20,720 L28,775"/>
</g></g>

<!-- 44/45 -->
<g transform="translate(1010,680) scale(0.1015625)">
<path d="M150,490 C172,540 172,620 145,690" style="stroke-width:3"/>
<path d="M165,540 L400,458 M560,410 L690,360"/>
<ellipse cx="445" cy="448" rx="92" ry="140" transform="rotate(-12 445 448)" style="stroke-width:2.8"/>
<path d="M455,335 C510,370 525,470 490,545"/>
<ellipse cx="412" cy="435" rx="45" ry="68" transform="rotate(-12 412 435)"/>
<ellipse cx="405" cy="430" rx="22" ry="34" transform="rotate(-12 405 430)"/>
<path d="M700,292 L830,250 M720,440 L860,410"/>
<ellipse cx="705" cy="368" rx="35" ry="72" transform="rotate(-10 705 368)"/>
<path d="M745,290 L750,420 M770,280 L775,415 M795,272 L800,410 M820,264 L825,405"/>
<path d="M760,192 C820,150 890,160 920,230 C950,300 942,392 900,442 C870,472 832,466 822,452" style="stroke-width:2.8"/>
<path d="M805,205 C870,185 908,252 908,332 C904,392 880,432 842,442"/>
<path d="M930,160 C1000,172 1050,242 1040,312 C1032,362 1012,392 992,402" style="stroke-width:2.8"/>
<path d="M965,200 L985,190 M990,250 L1010,245 M1000,310 L1020,312"/>
</g>
<!-- bolt 52 -->
<g transform="translate(1030,510) scale(0.1171875)">
<path d="M700,792 L955,705 M722,890 L965,812"/>
<ellipse cx="706" cy="840" rx="22" ry="50" transform="rotate(-15 706 840)"/>
<path d="M752,778 C742,810 745,850 758,878 M782,768 C772,800 775,840 788,868 M812,758 C802,790 805,830 818,858 M842,748 C832,780 835,820 848,848 M872,738 C862,770 865,810 878,838 M902,728 C892,760 895,800 908,828"/>
<path d="M915,650 C940,620 1000,612 1035,640 C1062,668 1066,745 1048,795 C1030,832 985,842 962,828 C935,812 918,770 918,720 Z" style="fill:#fff;stroke-width:2.6"/>
<path d="M932,640 C965,662 985,722 975,805 M1000,622 C1030,652 1040,732 1025,815"/>
<path d="M620,885 L690,858"/>
</g>
<!-- bracket 3 -->
<g transform="translate(830,860) scale(0.125)">
<path d="M300,272 L490,222 L598,292 L600,462 M300,272 L302,300 L398,352 L598,308" style="fill:#fff"/>
<path d="M398,352 L388,500 C392,525 410,540 440,555 L585,640 L650,618 L662,592 L598,557 L582,527 L600,502 L655,530"/>
<path d="M420,365 L428,497 L580,457 M440,345 L580,312"/>
<ellipse cx="470" cy="268" rx="30" ry="16"/>
<path d="M630,312 L640,562"/>
<path d="M680,500 L740,535 C760,552 750,580 725,580 L705,570"/>
</g>
<g class="gb">
<path d="M220,842.5 L257.5,863"/>
<path d="M240.5,843 C243,836 252,836 256,842 L258.5,861"/>
</g>
<!-- lever boss block (abs) -->
<g class="gb">
<path d="M365.8,768.5 L377,765 L384,768.5 L372.8,772.7 Z" style="fill:#fff"/>
<path d="M365.8,768.5 L360.2,790.3 M372.8,772.7 L367.9,794.5 M384,768.5 L389,786.1"/>
<ellipse cx="367.4" cy="777.7" rx="2.4" ry="3.4"/>
<path d="M347.5,792 L352.5,789 M358,793 L363,795 M378,789 L384,786"/>
</g>
<!-- Z5: clamps 21, hose 20 -->
<g transform="translate(540,500) scale(0.1171875)">

<path d="M286.3,301.4 L271.3,306.4 L256.6,313.4 L242.6,322.4 L229.4,333.1 L217.2,345.5 L206.2,359.4 L196.6,374.5 L188.3,390.7 L181.7,407.8 L176.7,425.5 L173.5,443.5 L172.0,461.7 L172.4,479.7 L174.5,497.4 L178.4,514.4 L184.0,530.5 L191.3,545.6 L200.1,559.4 L210.3,571.6 L221.8,582.3 L234.4,591.1 L247.9,598.0 L262.2,602.8 L277.0,605.6 L292.2,606.2 L307.5,604.7 L322.7,601.1 L337.7,595.4 L352.1,587.8 L365.9,578.2 L378.8,566.9 L390.6,554.0 L401.1,539.7 L410.4,524.2 L418.1,507.7 L424.2,490.4 L428.6,472.5 L431.2,454.4 L432.1,436.3 L431.1,418.3" style="stroke-width:3"/><path d="M431.1,418.3 L430.7,415.1 L430.3,411.8 L429.8,408.6 L429.3,405.3 L428.6,402.2 L428.0,399.0 L427.2,395.8 L426.4,392.7 L425.6,389.6 L424.7,386.6 L423.7,383.5 L422.7,380.5 L421.6,377.6 L420.4,374.6 L419.2,371.7 L418.0,368.9 L416.7,366.1 L415.3,363.3 L413.9,360.6 L412.4,357.9 L410.9,355.2 L409.3,352.6 L407.7,350.1 L406.0,347.6 L404.3,345.1 L402.5,342.7 L400.7,340.4 L398.8,338.1 L396.9,335.8 L394.9,333.6 L392.9,331.5 L390.8,329.4 L388.8,327.4 L386.6,325.5 L384.4,323.6 L382.2,321.7 L380.0,320.0 L377.7,318.3 L375.4,316.6 L373.0,315.0"/>
<path d="M316.8,325.1 L305.0,328.2 L293.4,332.9 L282.1,339.2 L271.4,347.1 L261.3,356.4 L251.9,367.0 L243.5,378.8 L236.1,391.5 L229.9,405.1 L224.9,419.3 L221.1,433.9 L218.8,448.7 L217.7,463.5 L218.1,478.2 L219.9,492.5 L223.0,506.1 L227.5,519.0 L233.1,531.0 L240.0,541.8 L248.0,551.3 L256.9,559.5 L266.7,566.1 L277.1,571.1 L288.2,574.4 L299.7,576.1 L311.4,575.9 L323.2,574.0 L334.9,570.4 L346.4,565.2 L357.5,558.3 L368.1,549.9 L378.0,540.2 L387.0,529.2 L395.1,517.1 L402.1,504.0 L407.9,490.2 L412.5,475.9 L415.8,461.2 L417.7,446.4 L418.3,431.5" style="stroke-width:2.6"/>
<path d="M370,380 L365,450 M270,550 L310,510"/>
<ellipse cx="250" cy="292" rx="22" ry="30"/><ellipse cx="288" cy="272" rx="22" ry="30"/><ellipse cx="326" cy="254" rx="22" ry="30"/><ellipse cx="362" cy="238" rx="22" ry="28"/>
<circle cx="388" cy="228" r="18" class="k"/>
<path d="M278,432 L432,520"/>
<path d="M470,532 C485,482 540,455 585,472 L830,618"/>
<path d="M470,532 C430,592 425,662 452,712 C482,752 525,762 565,772 L735,862" style="stroke-width:2.7"/>
<ellipse cx="792" cy="742" rx="62" ry="118" transform="rotate(20 792 742)" style="stroke-width:3.2"/>
<path d="M818.7,680.1 L817.1,676.0 L815.2,672.3 L813.0,669.1 L810.5,666.5 L807.7,664.5 L804.7,663.1 L801.5,662.2 L798.1,662.0 L794.5,662.4 L790.8,663.4 L786.9,665.0 L783.0,667.1 L779.1,669.9 L775.1,673.2 L771.1,677.0 L767.1,681.3 L763.2,686.1 L759.4,691.3 L755.8,696.9 L752.3,702.8 L748.9,709.0 L745.8,715.5 L742.9,722.2 L740.3,729.0 L737.9,735.9 L735.8,742.9 L734.1,749.9 L732.6,756.8 L731.5,763.6 L730.7,770.2 L730.3,776.6 L730.2,782.8 L730.4,788.6 L731.0,794.1 L732.0,799.2 L733.3,803.9 L734.9,808.0 L736.8,811.7 L739.0,814.9 L741.5,817.5" style="stroke-width:2.4"/>
<path d="M762,730 L862,790"/>
<path d="M983.8,734.9 L969.0,739.6 L954.6,746.3 L940.9,754.8 L928.0,765.1 L916.1,777.0 L905.4,790.2 L895.9,804.8 L887.9,820.3 L881.5,836.7 L876.7,853.7 L873.6,871.1 L872.3,888.6 L872.7,906.0 L875.0,923.0 L878.9,939.4 L884.5,955.0 L891.7,969.5 L900.5,982.8 L910.6,994.7 L921.9,1005.0 L934.3,1013.6 L947.6,1020.3 L961.7,1025.0 L976.3,1027.8 L991.2,1028.5 L1006.3,1027.1 L1021.2,1023.7 L1035.9,1018.4 L1050.0,1011.1 L1063.5,1001.9 L1076.1,991.1 L1087.6,978.8 L1097.9,965.0 L1106.9,950.1 L1114.4,934.3 L1120.3,917.6 L1124.5,900.5 L1127.0,883.1 L1127.7,865.6 L1126.7,848.3" style="stroke-width:3"/><path d="M1126.7,848.3 L1126.3,845.2 L1125.9,842.0 L1125.4,838.9 L1124.8,835.8 L1124.2,832.7 L1123.5,829.7 L1122.8,826.6 L1122.0,823.6 L1121.1,820.6 L1120.2,817.7 L1119.2,814.7 L1118.2,811.8 L1117.1,809.0 L1116.0,806.2 L1114.8,803.4 L1113.5,800.6 L1112.2,797.9 L1110.8,795.2 L1109.4,792.6 L1108.0,790.0 L1106.5,787.4 L1104.9,784.9 L1103.3,782.4 L1101.6,780.0 L1099.9,777.6 L1098.1,775.3 L1096.3,773.1 L1094.5,770.8 L1092.6,768.7 L1090.6,766.5 L1088.6,764.5 L1086.6,762.5 L1084.6,760.5 L1082.4,758.6 L1080.3,756.8 L1078.1,755.0 L1075.9,753.3 L1073.6,751.6 L1071.3,750.0 L1069.0,748.5"/>
<path d="M1012.1,760.8 L1000.9,763.5 L989.8,767.9 L979.0,773.8 L968.8,781.2 L959.1,789.8 L950.3,799.7 L942.3,810.7 L935.3,822.7 L929.4,835.4 L924.6,848.6 L921.2,862.3 L918.9,876.2 L918.1,890.2 L918.5,903.9 L920.3,917.3 L923.3,930.2 L927.7,942.3 L933.2,953.6 L939.8,963.8 L947.5,972.8 L956.1,980.5 L965.5,986.7 L975.5,991.5 L986.1,994.7 L997.1,996.3 L1008.3,996.2 L1019.6,994.5 L1030.9,991.2 L1041.8,986.3 L1052.4,979.9 L1062.5,972.1 L1071.9,963.0 L1080.5,952.7 L1088.2,941.4 L1094.8,929.2 L1100.3,916.3 L1104.7,902.8 L1107.7,889.1 L1109.5,875.1 L1109.9,861.2" style="stroke-width:2.6"/>
<path d="M1070,800 L1065,870 M970,990 L1010,950"/>
<ellipse cx="955" cy="722" rx="20" ry="28"/><ellipse cx="992" cy="702" rx="20" ry="28"/><ellipse cx="1030" cy="684" rx="20" ry="28"/><ellipse cx="1062" cy="672" rx="20" ry="26"/>
<path d="M972,872 L1160,970"/>
</g>

</g>
<g id="labels" fill="none" stroke="#000" stroke-linecap="round" stroke-linejoin="round">
<path d="M447.00,336.95 L442.99,345.45 L449.78,345.45 M447.97,342.20 L447.97,349.45 M452.89,339.45 L455.54,336.95 L455.54,349.45" style="stroke-width:2.29"/>
<path d="M447.21,368.95 L443.00,377.52 L450.11,377.52 M448.22,374.24 L448.22,381.55 M453.45,371.47 C453.96,369.58 455.27,368.95 456.72,368.95 C458.89,368.95 459.98,370.72 459.98,372.73 C459.98,374.62 459.04,375.88 457.44,377.52 L453.31,381.55 L460.35,381.55" style="stroke-width:2.31"/>
<path d="M442.84,412.49 C443.73,411.68 444.85,411.54 445.97,411.54 C448.06,411.54 449.10,413.16 449.10,414.92 C449.10,416.81 448.06,417.76 445.37,417.76 C448.58,417.76 449.70,419.38 449.70,421.41 C449.70,423.71 448.21,425.06 445.97,425.06 C444.48,425.06 443.28,424.52 442.39,423.71 M456.63,417.62 C454.39,417.62 453.50,416.27 453.50,414.65 C453.50,412.62 454.77,411.54 456.63,411.54 C458.50,411.54 459.76,412.62 459.76,414.65 C459.76,416.27 458.87,417.62 456.63,417.62 C454.02,417.62 452.90,419.38 452.90,421.41 C452.90,423.71 454.39,425.06 456.63,425.06 C458.87,425.06 460.36,423.71 460.36,421.41 C460.36,419.38 459.24,417.62 456.63,417.62 Z" style="stroke-width:2.48"/>
<path d="M443.08,468.85 L445.91,466.21 L445.91,479.39 M449.37,466.21 L456.79,466.21 L451.74,479.39" style="stroke-width:2.42"/>
<path d="M266.46,529.04 C267.36,528.28 268.48,528.15 269.61,528.15 C271.71,528.15 272.76,529.67 272.76,531.30 C272.76,533.07 271.71,533.95 269.01,533.95 C272.23,533.95 273.36,535.46 273.36,537.35 C273.36,539.49 271.86,540.75 269.61,540.75 C268.11,540.75 266.91,540.24 266.00,539.49 M282.49,528.66 C281.74,528.28 280.84,528.15 280.24,528.15 C277.54,528.15 276.34,531.93 276.34,535.96 C276.34,539.23 277.84,540.75 280.09,540.75 C282.34,540.75 283.85,538.86 283.85,536.46 C283.85,533.95 282.34,532.56 280.24,532.56 C278.29,532.56 276.79,533.95 276.42,535.71" style="stroke-width:2.31"/>
<path d="M442.29,535.37 L444.59,532.85 L444.59,545.45 M447.84,532.85 L453.85,532.85 L449.76,545.45" style="stroke-width:2.31"/>
<path d="M441.33,563.91 C442.16,563.20 443.19,563.09 444.22,563.09 C446.14,563.09 447.10,564.50 447.10,566.04 C447.10,567.70 446.14,568.53 443.67,568.53 C446.62,568.53 447.65,569.95 447.65,571.72 C447.65,573.73 446.28,574.91 444.22,574.91 C442.84,574.91 441.75,574.44 440.92,573.73 M454.57,563.09 L450.59,571.13 L457.31,571.13 M455.53,568.05 L455.53,574.91" style="stroke-width:2.17"/>
<path d="M380.75,595.38 L383.36,592.99 L383.36,604.91 M386.48,592.99 L393.31,592.99 L388.67,604.91" style="stroke-width:2.19"/>
<path d="M644.90,419.95 C642.68,419.95 641.80,418.85 641.80,417.53 C641.80,415.89 643.05,415.01 644.90,415.01 C646.75,415.01 648.00,415.89 648.00,417.53 C648.00,418.85 647.12,419.95 644.90,419.95 C642.32,419.95 641.21,421.38 641.21,423.03 C641.21,424.89 642.68,425.99 644.90,425.99 C647.12,425.99 648.59,424.89 648.59,423.03 C648.59,421.38 647.48,419.95 644.90,419.95 Z" style="stroke-width:2.02"/>
<path d="M688.26,459.55 C688.96,459.88 689.80,459.99 690.36,459.99 C692.87,459.99 693.99,456.70 693.99,453.18 C693.99,450.33 692.60,449.01 690.50,449.01 C688.40,449.01 687.01,450.66 687.01,452.74 C687.01,454.94 688.40,456.15 690.36,456.15 C692.18,456.15 693.57,454.94 693.92,453.40" style="stroke-width:2.02"/>
<path d="M743.65,466.41 C744.49,465.70 745.54,465.58 746.59,465.58 C748.56,465.58 749.54,467.00 749.54,468.54 C749.54,470.20 748.56,471.03 746.03,471.03 C749.05,471.03 750.10,472.45 750.10,474.22 C750.10,476.23 748.70,477.42 746.59,477.42 C745.19,477.42 744.07,476.94 743.23,476.23 M753.25,467.95 C753.74,466.18 755.00,465.58 756.41,465.58 C758.51,465.58 759.56,467.24 759.56,469.13 C759.56,470.91 758.65,472.09 757.11,473.63 L753.11,477.42 L759.91,477.42" style="stroke-width:2.17"/>
<path d="M827.04,522.30 L819.72,522.30 L819.06,528.78 C820.67,527.77 822.10,527.48 823.05,527.48 C825.90,527.48 827.80,529.50 827.80,532.09 C827.80,534.97 825.90,536.70 823.05,536.70 C821.15,536.70 819.44,535.98 818.49,534.97 M831.96,523.31 C833.10,522.44 834.53,522.30 835.95,522.30 C838.61,522.30 839.94,524.03 839.94,525.90 C839.94,527.92 838.61,528.92 835.19,528.92 C839.28,528.92 840.70,530.65 840.70,532.81 C840.70,535.26 838.80,536.70 835.95,536.70 C834.05,536.70 832.53,536.12 831.39,535.26" style="stroke-width:2.60"/>
<path d="M590.10,511.95 C590.55,510.02 591.70,509.38 592.99,509.38 C594.91,509.38 595.87,511.18 595.87,513.23 C595.87,515.16 595.04,516.44 593.63,518.11 L589.97,522.22 L596.19,522.22 M599.38,511.95 L601.83,509.38 L601.83,522.22" style="stroke-width:2.36"/>
<path d="M623.51,549.32 C624.03,547.46 625.36,546.84 626.83,546.84 C629.05,546.84 630.16,548.58 630.16,550.57 C630.16,552.43 629.20,553.67 627.57,555.29 L623.36,559.26 L630.53,559.26 M637.17,546.84 C634.06,546.84 633.47,550.57 633.47,553.05 C633.47,555.53 634.06,559.26 637.17,559.26 C640.27,559.26 640.86,555.53 640.86,553.05 C640.86,550.57 640.27,546.84 637.17,546.84 Z" style="stroke-width:2.28"/>
<path d="M664.43,560.88 C664.90,559.09 666.10,558.49 667.44,558.49 C669.44,558.49 670.44,560.16 670.44,562.07 C670.44,563.85 669.58,565.05 668.10,566.59 L664.29,570.41 L670.78,570.41 M673.75,560.88 L676.31,558.49 L676.31,570.41" style="stroke-width:2.19"/>
<path d="M614.19,635.88 C614.76,634.09 616.20,633.49 617.80,633.49 C620.21,633.49 621.41,635.16 621.41,637.07 C621.41,638.85 620.37,640.05 618.61,641.59 L614.03,645.41 L621.82,645.41 M625.04,635.88 C625.60,634.09 627.04,633.49 628.65,633.49 C631.05,633.49 632.26,635.16 632.26,637.07 C632.26,638.85 631.21,640.05 629.45,641.59 L624.88,645.41 L632.66,645.41" style="stroke-width:2.19"/>
<path d="M1007.10,418.40 L1001.99,418.40 L1001.53,423.80 C1002.66,422.96 1003.65,422.72 1004.32,422.72 C1006.30,422.72 1007.63,424.40 1007.63,426.56 C1007.63,428.96 1006.30,430.40 1004.32,430.40 C1002.99,430.40 1001.80,429.80 1001.13,428.96 M1013.78,418.40 C1011.00,418.40 1010.47,422.00 1010.47,424.40 C1010.47,426.80 1011.00,430.40 1013.78,430.40 C1016.57,430.40 1017.10,426.80 1017.10,424.40 C1017.10,422.00 1016.57,418.40 1013.78,418.40 Z" style="stroke-width:2.20"/>
<path d="M1006.23,472.52 L1008.32,470.11 L1008.32,482.19 M1011.43,470.11 L1016.89,470.11 L1013.18,482.19" style="stroke-width:2.22"/>
<path d="M1153.86,544.50 L1148.49,554.50 L1157.57,554.50 M1155.16,550.67 L1155.16,559.20 M1165.66,551.12 C1162.88,551.12 1161.77,549.64 1161.77,547.88 C1161.77,545.68 1163.35,544.50 1165.66,544.50 C1167.98,544.50 1169.56,545.68 1169.56,547.88 C1169.56,549.64 1168.45,551.12 1165.66,551.12 C1162.42,551.12 1161.03,553.03 1161.03,555.23 C1161.03,557.73 1162.88,559.20 1165.66,559.20 C1168.45,559.20 1170.30,557.73 1170.30,555.23 C1170.30,553.03 1168.91,551.12 1165.66,551.12 Z" style="stroke-width:2.60"/>
<path d="M1152.22,612.12 L1147.12,612.12 L1146.65,617.64 C1147.78,616.78 1148.77,616.53 1149.44,616.53 C1151.42,616.53 1152.75,618.25 1152.75,620.46 C1152.75,622.91 1151.42,624.38 1149.44,624.38 C1148.11,624.38 1146.92,623.76 1146.26,622.91 M1155.98,614.57 C1156.45,612.74 1157.64,612.12 1158.96,612.12 C1160.95,612.12 1161.94,613.84 1161.94,615.80 C1161.94,617.64 1161.08,618.86 1159.63,620.46 L1155.85,624.38 L1162.28,624.38" style="stroke-width:2.25"/>
<path d="M796.54,784.94 L800.71,781.90 L800.71,797.10" style="stroke-width:2.60"/>
<path d="M1111.36,728.93 L1107.47,737.32 L1114.04,737.32 M1112.30,734.11 L1112.30,741.27 M1120.99,728.93 L1117.09,737.32 L1123.67,737.32 M1121.92,734.11 L1121.92,741.27" style="stroke-width:2.26"/>
<path d="M1066.23,740.82 L1062.16,748.41 L1069.03,748.41 M1067.21,745.51 L1067.21,751.98 M1078.12,740.82 L1072.72,740.82 L1072.23,745.84 C1073.42,745.06 1074.47,744.84 1075.17,744.84 C1077.28,744.84 1078.68,746.40 1078.68,748.41 C1078.68,750.64 1077.28,751.98 1075.17,751.98 C1073.77,751.98 1072.51,751.42 1071.81,750.64" style="stroke-width:2.05"/>
<path d="M1046.52,801.65 C1047.03,799.77 1048.36,799.15 1049.83,799.15 C1052.05,799.15 1053.15,800.90 1053.15,802.90 C1053.15,804.77 1052.19,806.03 1050.57,807.65 L1046.37,811.65 L1053.52,811.65 M1057.07,800.02 C1057.95,799.27 1059.06,799.15 1060.17,799.15 C1062.23,799.15 1063.26,800.65 1063.26,802.27 C1063.26,804.02 1062.23,804.90 1059.58,804.90 C1062.75,804.90 1063.85,806.40 1063.85,808.28 C1063.85,810.40 1062.38,811.65 1060.17,811.65 C1058.69,811.65 1057.51,811.15 1056.63,810.40" style="stroke-width:2.29"/>
<path d="M932.53,845.60 C933.08,843.75 934.50,843.13 936.09,843.13 C938.46,843.13 939.64,844.86 939.64,846.83 C939.64,848.68 938.62,849.92 936.88,851.52 L932.37,855.47 L940.04,855.47 M943.59,844.00 C944.54,843.25 945.73,843.13 946.91,843.13 C949.13,843.13 950.24,844.61 950.24,846.22 C950.24,847.94 949.13,848.81 946.28,848.81 C949.68,848.81 950.87,850.29 950.87,852.14 C950.87,854.23 949.29,855.47 946.91,855.47 C945.33,855.47 944.07,854.98 943.12,854.23" style="stroke-width:2.26"/>
<path d="M932.44,878.33 C932.99,876.62 934.42,876.05 936.00,876.05 C938.37,876.05 939.55,877.64 939.55,879.47 C939.55,881.18 938.53,882.32 936.79,883.80 L932.28,887.45 L939.95,887.45 M947.39,876.05 L942.81,883.80 L950.55,883.80 M948.50,880.84 L948.50,887.45" style="stroke-width:2.09"/>
<path d="M850.21,891.60 C851.09,890.93 852.20,890.82 853.30,890.82 C855.36,890.82 856.39,892.16 856.39,893.61 C856.39,895.17 855.36,895.95 852.71,895.95 C855.87,895.95 856.98,897.29 856.98,898.97 C856.98,900.86 855.51,901.98 853.30,901.98 C851.83,901.98 850.65,901.53 849.77,900.86" style="stroke-width:2.05"/>
<path d="M851.40,947.94 L854.12,945.24 L854.12,958.76 M858.00,947.94 C858.50,945.92 859.78,945.24 861.20,945.24 C863.34,945.24 864.40,947.13 864.40,949.30 C864.40,951.32 863.48,952.68 861.91,954.43 L857.86,958.76 L864.76,958.76" style="stroke-width:2.48"/>
<path d="M908.11,947.77 L910.74,946.55 L910.74,952.65" style="stroke-width:1.90"/>
<path d="M851.36,994.40 L855.32,991.93 L855.32,1004.27 M858.94,994.40 L862.90,991.93 L862.90,1004.27" style="stroke-width:2.26"/>
<path d="M1040.14,1000.38 L1034.48,1000.38 L1033.97,1005.66 C1035.22,1004.84 1036.32,1004.61 1037.06,1004.61 C1039.26,1004.61 1040.73,1006.25 1040.73,1008.36 C1040.73,1010.71 1039.26,1012.12 1037.06,1012.12 C1035.58,1012.12 1034.26,1011.54 1033.52,1010.71 M1043.68,1002.73 L1046.49,1000.38 L1046.49,1012.12" style="stroke-width:2.15"/>
<path d="M96.46,756.80 L90.99,766.73 L100.23,766.73 M97.78,762.93 L97.78,771.40 M105.37,770.82 C106.31,771.25 107.44,771.40 108.20,771.40 C111.59,771.40 113.10,767.02 113.10,762.35 C113.10,758.55 111.21,756.80 108.39,756.80 C105.56,756.80 103.67,758.99 103.67,761.76 C103.67,764.68 105.56,766.29 108.20,766.29 C110.65,766.29 112.53,764.68 113.01,762.64" style="stroke-width:2.60"/>
<path d="M95.28,834.62 C95.76,832.76 96.99,832.14 98.36,832.14 C100.41,832.14 101.44,833.88 101.44,835.87 C101.44,837.73 100.55,838.97 99.04,840.59 L95.14,844.56 L101.78,844.56 M110.33,832.64 C109.65,832.26 108.82,832.14 108.28,832.14 C105.81,832.14 104.72,835.87 104.72,839.84 C104.72,843.07 106.09,844.56 108.14,844.56 C110.19,844.56 111.56,842.70 111.56,840.34 C111.56,837.85 110.19,836.49 108.28,836.49 C106.50,836.49 105.13,837.85 104.79,839.59" style="stroke-width:2.28"/>
<path d="M101.27,934.40 C101.75,932.55 102.99,931.93 104.36,931.93 C106.42,931.93 107.45,933.66 107.45,935.63 C107.45,937.48 106.56,938.72 105.05,940.32 L101.14,944.27 L107.79,944.27 M116.33,932.42 C115.65,932.05 114.83,931.93 114.28,931.93 C111.81,931.93 110.71,935.63 110.71,939.58 C110.71,942.79 112.08,944.27 114.14,944.27 C116.20,944.27 117.57,942.42 117.57,940.07 C117.57,937.61 116.20,936.25 114.28,936.25 C112.49,936.25 111.12,937.61 110.78,939.33" style="stroke-width:2.26"/>
<path d="M595.89,845.22 L598.42,842.74 L598.42,855.16 M602.84,854.66 C603.50,855.04 604.30,855.16 604.82,855.16 C607.20,855.16 608.26,851.43 608.26,847.46 C608.26,844.23 606.94,842.74 604.96,842.74 C602.97,842.74 601.65,844.60 601.65,846.96 C601.65,849.45 602.97,850.81 604.82,850.81 C606.54,850.81 607.86,849.45 608.19,847.71" style="stroke-width:2.28"/>
<path d="M152.18,613.20 L147.66,622.11 L155.30,622.11 M153.27,618.70 L153.27,626.30 M164.79,613.73 C164.02,613.33 163.08,613.20 162.46,613.20 C159.65,613.20 158.40,617.13 158.40,621.32 C158.40,624.73 159.96,626.30 162.30,626.30 C164.64,626.30 166.20,624.33 166.20,621.85 C166.20,619.23 164.64,617.79 162.46,617.79 C160.43,617.79 158.87,619.23 158.48,621.06" style="stroke-width:2.40"/>
<path d="M151.52,682.40 L147.64,691.31 L154.20,691.31 M152.46,687.90 L152.46,695.50 M157.30,682.40 L164.00,682.40 L159.44,695.50" style="stroke-width:2.40"/>
</g>
<g id="wm" font-family="Liberation Sans" font-weight="bold" font-size="1000">
<g fill="none" stroke="#bfbfbf" stroke-width="2" stroke-linejoin="round">
<path d="M216.9,611.6 L271.2,611.6 L271.2,632.5 L241.6,632.5 L241.6,648.2 L269.2,648.2 L269.2,669.2 L241.6,669.2 L241.6,706.3 L216.9,706.3 Z"/>
<path d="M284.3,611.6 L309.3,611.6 L309.3,672 C309.3,683 315,688 326.4,688 C337.8,688 343.5,683 343.5,672 L343.5,611.6 L367.5,611.6 L367.5,672 C367.5,696 352,708.6 326,708.6 C300,708.6 284.3,696 284.3,672 Z"/>
<path d="M680.6,611.2 L724,611.2 C743,611.2 753,624 753,643 C753,663 742,675 722,675 L704.1,675 L704.1,706.4 L680.6,706.4 Z M704.1,631.2 L718,631.2 C725,631.2 728.5,636 728.5,643.5 C728.5,651 725,655.7 718,655.7 L704.1,655.7 Z"/>
<path d="M745.5,706.4 L780.8,611.2 L807.8,611.2 L844.7,706.4 L817.3,706.4 L811.5,690 L778,690 L772.2,706.4 Z M785.4,671 L796.2,641.6 L805.6,671 Z"/>
<path d="M852.8,611.5 L895,611.5 C912,611.5 922.5,625 922.5,641 C922.5,656 913,665 901.2,667.5 L931.2,706.5 L900.6,706.5 L876.9,669.4 L876.9,706.5 L852.8,706.5 Z M876.9,630 L889,630 C894,630 897,635 897,642 C897,649 894,654.4 889,654.4 L876.9,654.4 Z"/>
<path d="M930.6,611.5 L996.9,611.5 L996.9,632.7 L976.2,632.7 L976.2,706.5 L951,706.5 L951,632.7 L930.6,632.7 Z"/>
<path d="M1068,621 C1062,613 1050,609 1036.7,609 C1016,609 1004.4,622 1004.4,638.6 C1004.4,652 1010,659 1022,664 L1038,670.5 C1044,673 1045.7,676 1045.7,679.5 C1045.7,684.5 1041,688 1034,688 C1025,688 1017,684 1012,678.5 L1000.8,698 C1008,705 1020,709.2 1036,709.2 C1058,709.2 1072,697 1072,681 C1072,667 1064,659 1050,653.5 L1034,646.5 C1030.5,644.5 1029.5,641 1029.5,637.5 C1029.5,632.5 1033,629.6 1039,629.6 C1045,629.6 1050,631.5 1054.5,634.5 Z"/>
</g>
<g fill="rgba(239,187,52,0.31)" stroke="#dcd6cc" stroke-width="1.5">
<polygon points="383.5,571 425,571 447,607 470,571 510,571 469,633 524,705 475,705 448,665 421,705 374,705 424,633"/>
<polygon points="531.6,571 573,571 596.3,606.5 619,571 659,571 622,631 666,706 620,706 597,661 563,706 517,706 574.5,633"/>
</g>
</g>
</svg>
</body></html>
